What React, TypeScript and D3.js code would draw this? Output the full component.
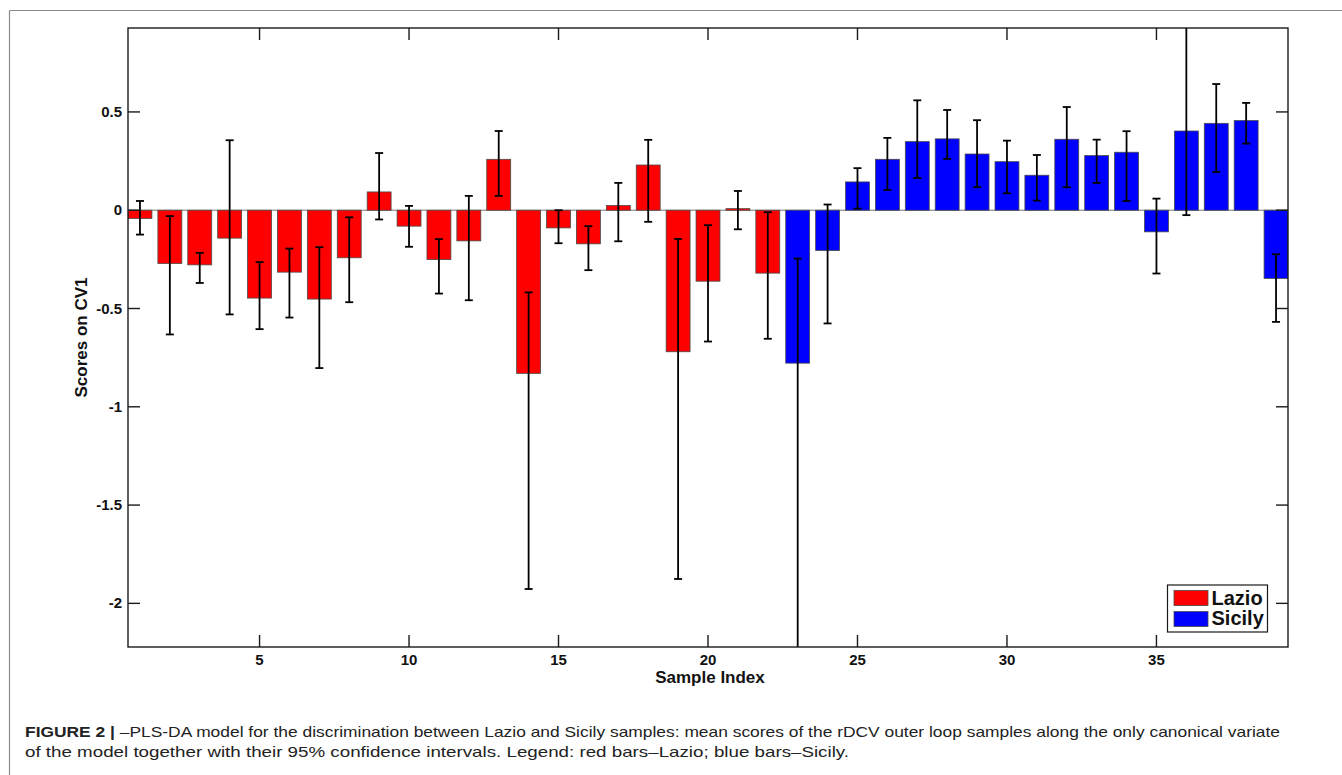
import React, { useEffect, useRef } from 'react';
import * as d3 from 'd3';

// sample index on the x axis
const sampleIndex = [
  1, 2, 3, 4, 5, 6, 7, 8, 9, 10, 11, 12, 13, 14, 15, 16, 17, 18, 19, 20,
  21, 22, 23, 24, 25, 26, 27, 28, 29, 30, 31, 32, 33, 34, 35, 36, 37, 38, 39,
];
// origin of each sample
const region = [
  'Lazio', 'Lazio', 'Lazio', 'Lazio', 'Lazio', 'Lazio', 'Lazio', 'Lazio', 'Lazio', 'Lazio',
  'Lazio', 'Lazio', 'Lazio', 'Lazio', 'Lazio', 'Lazio', 'Lazio', 'Lazio', 'Lazio', 'Lazio',
  'Lazio', 'Lazio', 'Sicily', 'Sicily', 'Sicily', 'Sicily', 'Sicily', 'Sicily', 'Sicily', 'Sicily',
  'Sicily', 'Sicily', 'Sicily', 'Sicily', 'Sicily', 'Sicily', 'Sicily', 'Sicily', 'Sicily',
];
// mean scores on CV1
const meanScores = [
  -0.042, -0.271, -0.278, -0.142, -0.447, -0.315, -0.452, -0.242, 0.093, -0.081,
  -0.251, -0.156, 0.259, -0.83, -0.09, -0.171, 0.024, 0.23, -0.72, -0.361,
  0.008, -0.32, -0.778, -0.205, 0.144, 0.259, 0.349, 0.363, 0.286, 0.247,
  0.178, 0.361, 0.278, 0.295, -0.11, 0.403, 0.442, 0.456, -0.347,
];
// 95% confidence limits
const ciLower = [
  -0.124, -0.632, -0.37, -0.53, -0.605, -0.546, -0.803, -0.468, -0.047, -0.186,
  -0.424, -0.458, 0.073, -1.927, -0.168, -0.305, -0.158, -0.059, -1.876, -0.668,
  -0.097, -0.654, -2.35, -0.576, 0.008, 0.103, 0.164, 0.261, 0.117, 0.086,
  0.049, 0.117, 0.139, 0.047, -0.322, -0.025, 0.195, 0.339, -0.568,
];
const ciUpper = [
  0.047, -0.03, -0.217, 0.356, -0.264, -0.195, -0.188, -0.036, 0.291, 0.022,
  -0.147, 0.073, 0.403, -0.418, 0.0, -0.081, 0.139, 0.358, -0.146, -0.076,
  0.098, -0.01, -0.246, 0.029, 0.214, 0.368, 0.559, 0.51, 0.458, 0.354,
  0.281, 0.525, 0.359, 0.402, 0.059, 0.98, 0.642, 0.546, -0.224,
];
const xTicks = [5, 10, 15, 20, 25, 30, 35];
const yTicks = [-2, -1.5, -1, -0.5, 0, 0.5];
const legendItems = ['Lazio', 'Sicily'];

const captionBold = 'FIGURE 2 | ';
const captionLine1 =
  '\u2013PLS-DA model for the discrimination between Lazio and Sicily samples: mean scores of the rDCV outer loop samples along the only canonical variate';
const captionLine2 =
  'of the model together with their 95% confidence intervals. Legend: red bars\u2013Lazio; blue bars\u2013Sicily.';

const App = () => {
  const ref = useRef<SVGSVGElement | null>(null);

  useEffect(() => {
    const root = d3.select(ref.current);
    root.selectAll('*').remove();

    const margin = { top: 28, left: 128 };
    const width = 1160;
    const height = 619;
    const font = '"Liberation Sans", Arial, Helvetica, sans-serif';
    const colors: Record<string, string> = { Lazio: '#ff0000', Sicily: '#0000ff' };

    // figure frame
    root.append('line').attr('x1', 9.5).attr('x2', 1342).attr('y1', 10.5).attr('y2', 10.5)
      .attr('stroke', '#8a8a8a').attr('stroke-width', 1.2);
    root.append('line').attr('x1', 9.5).attr('x2', 9.5).attr('y1', 10.5).attr('y2', 775)
      .attr('stroke', '#8a8a8a').attr('stroke-width', 1.2);

    const svg = root.append('g').attr('transform', `translate(${margin.left},${margin.top})`);

    const xScale = d3.scaleLinear().domain([0.6, 39.4]).range([0, width]);
    const yScale = d3.scaleLinear().domain([-2.222, 0.927]).range([height, 0]);
    const barW = xScale(1.8) - xScale(1);

    svg.append('defs').append('clipPath').attr('id', 'plotclip')
      .append('rect').attr('width', width).attr('height', height);

    const plot = svg.append('g').attr('clip-path', 'url(#plotclip)');

    // baseline
    plot.append('line').attr('x1', 0).attr('x2', width)
      .attr('y1', yScale(0)).attr('y2', yScale(0))
      .attr('stroke', '#777').attr('stroke-width', 1);

    plot.selectAll('rect.bar')
      .data(sampleIndex)
      .enter()
      .append('rect')
      .attr('class', 'bar')
      .attr('x', (d) => xScale(d) - barW / 2)
      .attr('width', barW)
      .attr('y', (d, i) => yScale(Math.max(0, meanScores[i])))
      .attr('height', (d, i) => Math.abs(yScale(meanScores[i]) - yScale(0)))
      .attr('fill', (d, i) => colors[region[i]])
      .attr('stroke', '#4a4a4a')
      .attr('stroke-width', 0.8);

    // error bars
    const err = plot.selectAll('g.err').data(sampleIndex).enter().append('g').attr('class', 'err');
    const cap = 4;
    err.append('line')
      .attr('x1', (d) => xScale(d)).attr('x2', (d) => xScale(d))
      .attr('y1', (d, i) => yScale(ciLower[i])).attr('y2', (d, i) => yScale(ciUpper[i]));
    err.append('line')
      .attr('x1', (d) => xScale(d) - cap).attr('x2', (d) => xScale(d) + cap)
      .attr('y1', (d, i) => yScale(ciLower[i])).attr('y2', (d, i) => yScale(ciLower[i]));
    err.append('line')
      .attr('x1', (d) => xScale(d) - cap).attr('x2', (d) => xScale(d) + cap)
      .attr('y1', (d, i) => yScale(ciUpper[i])).attr('y2', (d, i) => yScale(ciUpper[i]));
    err.selectAll('line').attr('stroke', '#000').attr('stroke-width', 1.8);

    // box and inward ticks
    svg.append('rect').attr('width', width).attr('height', height)
      .attr('fill', 'none').attr('stroke', '#1a1a1a').attr('stroke-width', 1.4);

    const tl = 12;
    const axisG = svg.append('g').attr('stroke', '#1a1a1a').attr('stroke-width', 1.4);
    xTicks.forEach((t) => {
      axisG.append('line').attr('x1', xScale(t)).attr('x2', xScale(t)).attr('y1', height).attr('y2', height - tl);
      axisG.append('line').attr('x1', xScale(t)).attr('x2', xScale(t)).attr('y1', 0).attr('y2', tl);
    });
    yTicks.forEach((t) => {
      axisG.append('line').attr('x1', 0).attr('x2', tl).attr('y1', yScale(t)).attr('y2', yScale(t));
      axisG.append('line').attr('x1', width).attr('x2', width - tl).attr('y1', yScale(t)).attr('y2', yScale(t));
    });

    svg.selectAll('text.xt')
      .data(xTicks)
      .enter()
      .append('text')
      .attr('x', (d) => xScale(d))
      .attr('y', height + 18)
      .attr('text-anchor', 'middle')
      .style('font-family', font).style('font-weight', 'bold').style('font-size', '15px')
      .attr('fill', '#111')
      .text((d) => d);

    svg.selectAll('text.yt')
      .data(yTicks)
      .enter()
      .append('text')
      .attr('x', -6)
      .attr('y', (d) => yScale(d) + 5)
      .attr('text-anchor', 'end')
      .style('font-family', font).style('font-weight', 'bold').style('font-size', '15px')
      .attr('fill', '#111')
      .text((d) => d);

    svg.append('text')
      .attr('x', width / 2 + 2)
      .attr('y', height + 36)
      .attr('text-anchor', 'middle')
      .style('font-family', font).style('font-weight', 'bold').style('font-size', '17px')
      .attr('fill', '#111')
      .text('Sample Index');

    svg.append('text')
      .attr('transform', `translate(${-41},${height / 2}) rotate(-90)`)
      .attr('text-anchor', 'middle')
      .style('font-family', font).style('font-weight', 'bold').style('font-size', '17px')
      .attr('fill', '#111')
      .text('Scores on CV1');

    // legend
    const lg = svg.append('g').attr('transform', `translate(${1167.5 - margin.left},${585 - margin.top})`);
    lg.append('rect').attr('width', 100).attr('height', 47)
      .attr('fill', '#fff').attr('stroke', '#1a1a1a').attr('stroke-width', 1.2);
    legendItems.forEach((name, i) => {
      lg.append('rect').attr('x', 6.5).attr('y', 5.5 + i * 21).attr('width', 34).attr('height', 15)
        .attr('fill', colors[name]).attr('stroke', '#4a4a4a').attr('stroke-width', 0.8);
      lg.append('text').attr('x', 44).attr('y', 19.5 + i * 20.5)
        .style('font-family', font).style('font-weight', 'bold').style('font-size', '20px')
        .attr('fill', '#111')
        .text(name);
    });

    // caption (glyphs are wide in the original, so stretch to its measured widths)
    const cap1 = root.append('text').attr('x', 25).attr('y', 736.5)
      .attr('textLength', 1255).attr('lengthAdjust', 'spacingAndGlyphs')
      .style('font-family', font).style('font-size', '15px').attr('fill', '#222');
    cap1.append('tspan').style('font-weight', 'bold').text(captionBold);
    cap1.append('tspan').text(captionLine1);
    root.append('text').attr('x', 25).attr('y', 757)
      .attr('textLength', 824).attr('lengthAdjust', 'spacingAndGlyphs')
      .style('font-family', font).style('font-size', '15px').attr('fill', '#222')
      .text(captionLine2);
  }, []);

  return (
    <svg
      ref={ref}
      width={1342}
      height={775}
      style={{ position: 'absolute', left: 0, top: 0, background: '#fff' }}
    />
  );
};

export default App;
